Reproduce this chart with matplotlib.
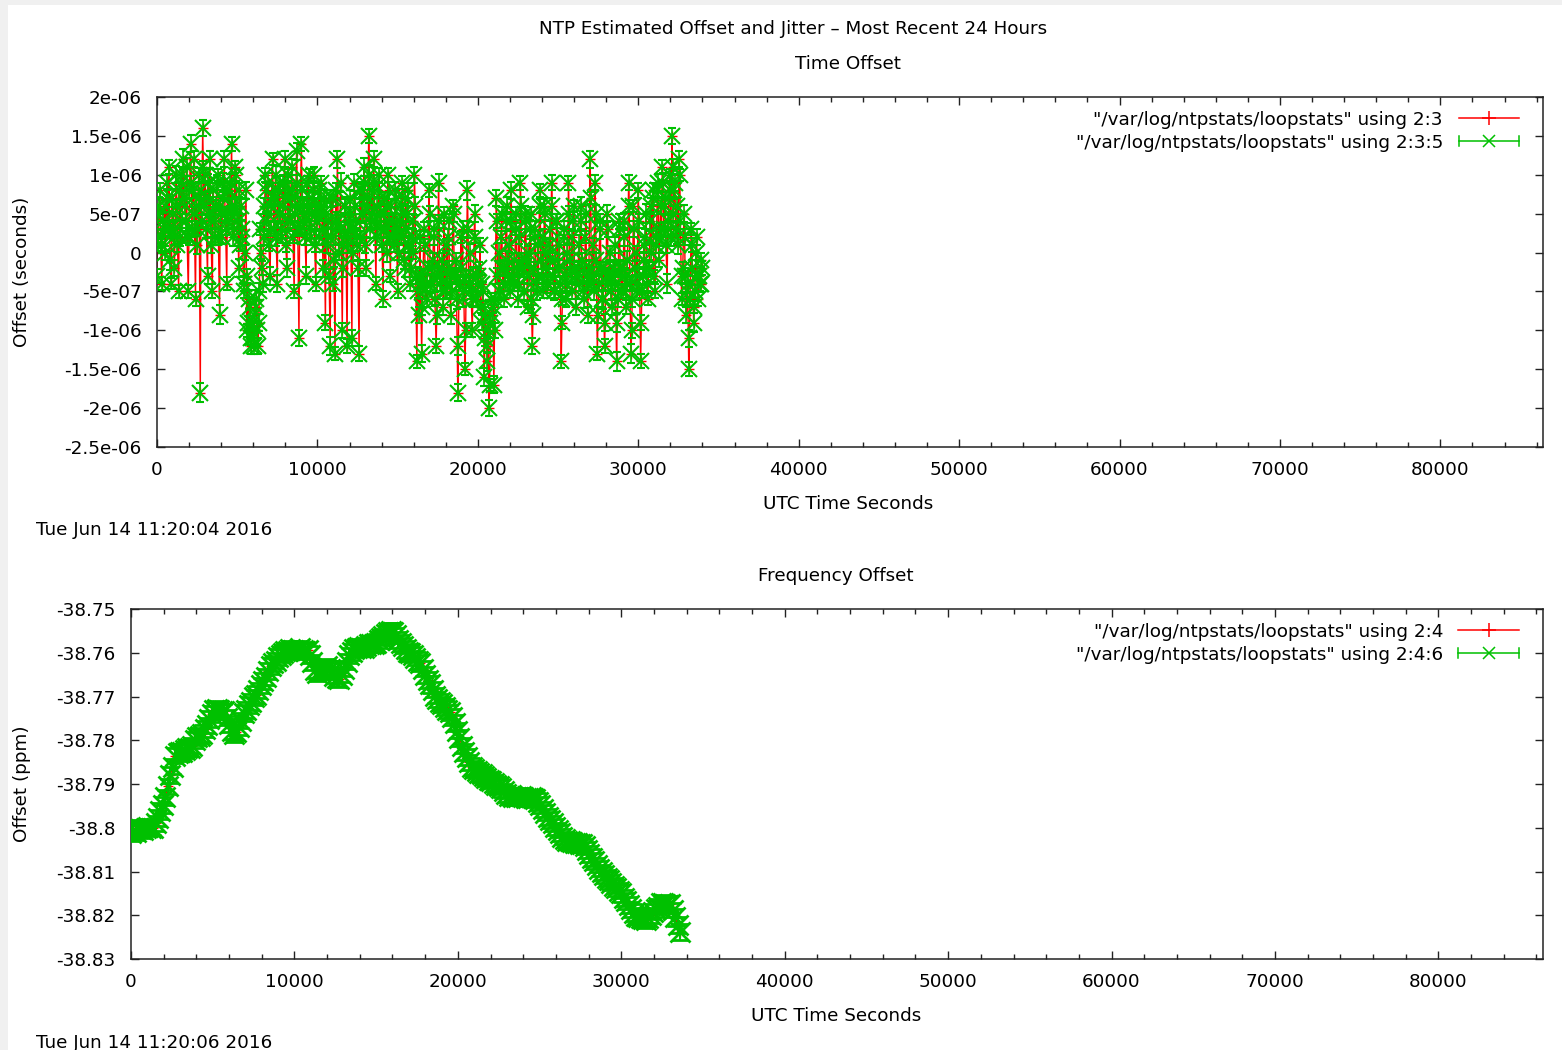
import matplotlib
matplotlib.use("Agg")
import matplotlib.pyplot as plt
from matplotlib.lines import Line2D
from matplotlib.patches import Rectangle
from matplotlib.legend_handler import HandlerBase
from matplotlib.ticker import FixedLocator, FixedFormatter, MultipleLocator

# ---------------- data ----------------
main_title = "NTP Estimated Offset and Jitter \u2013 Most Recent 24 Hours"
top_title = "Time Offset"
bottom_title = "Frequency Offset"
x_label = "UTC Time Seconds"
top_ylabel = "Offset (seconds)"
bottom_ylabel = "Offset (ppm)"
top_stamp = "Tue Jun 14 11:20:04 2016"
bottom_stamp = "Tue Jun 14 11:20:06 2016"
top_legend = ['"/var/log/ntpstats/loopstats" using 2:3',
              '"/var/log/ntpstats/loopstats" using 2:3:5']
bottom_legend = ['"/var/log/ntpstats/loopstats" using 2:4',
                 '"/var/log/ntpstats/loopstats" using 2:4:6']

x_ticks = [0, 10000, 20000, 30000, 40000, 50000, 60000, 70000, 80000]
x_tick_labels = ["0", "10000", "20000", "30000", "40000", "50000", "60000", "70000", "80000"]

off_y_ticks = [2e-06, 1.5e-06, 1e-06, 5e-07, 0, -5e-07, -1e-06, -1.5e-06, -2e-06, -2.5e-06]
off_y_labels = ["2e-06", "1.5e-06", "1e-06", "5e-07", "0", "-5e-07", "-1e-06",
                "-1.5e-06", "-2e-06", "-2.5e-06"]
freq_y_ticks = [-38.75, -38.76, -38.77, -38.78, -38.79, -38.8, -38.81, -38.82, -38.83]
freq_y_labels = ["-38.75", "-38.76", "-38.77", "-38.78", "-38.79", "-38.8", "-38.81",
                 "-38.82", "-38.83"]

# time offset samples (UTC seconds); values and jitter in units of 1e-7 s
# group A
off_t = [0, 150, 300, 450, 600, 750, 900, 1050, 1200, 1350,
         1500, 1650, 1800, 1950, 2100, 2250, 2400, 2550, 2700, 2850,
         3000, 3150, 3300, 3450, 3600, 3750, 3900, 4050, 4200, 4350,
         4500, 4650, 4800, 4950, 5100, 5250, 5400, 5550, 5700, 5850,
         6000, 6150, 6300, 6450, 6600, 6750, 6900, 7050, 7200, 7350,
         7500, 7650, 7800, 7950, 8100, 8250, 8400, 8550, 8700, 8850,
         9000, 9150, 9300, 9450, 9600, 9750, 9900, 10050, 10200, 10350,
         10500, 10650, 10800, 10950, 11100, 11250, 11400, 11550, 11700, 11850,
         12000, 12150, 12300, 12450, 12600, 12750, 12900, 13050, 13200, 13350,
         13500, 13650, 13800, 13950, 14100, 14250, 14400, 14550, 14700, 14850,
         15000, 15150, 15300, 15450, 15600, 15750, 15900, 16050, 16200, 16350,
         16500, 16650, 16800, 16950, 17100, 17250, 17400, 17550, 17700, 17850,
         18000, 18150, 18300, 18450, 18600, 18750, 18900, 19050, 19200, 19350,
         19500, 19650, 19800, 19950, 20100, 20250, 20400, 20550, 20700, 20850,
         21000, 21150, 21300, 21450, 21600, 21750, 21900, 22050, 22200, 22350,
         22500, 22650, 22800, 22950, 23100, 23250, 23400, 23550, 23700, 23850,
         24000, 24150, 24300, 24450, 24600, 24750, 24900, 25050, 25200, 25350,
         25500, 25650, 25800, 25950, 26100, 26250, 26400, 26550, 26700, 26850,
         27000, 27150, 27300, 27450, 27600, 27750, 27900, 28050, 28200, 28350,
         28500, 28650, 28800, 28950, 29100, 29250, 29400, 29550, 29700, 29850,
         30000, 30150, 30300, 30450, 30600, 30750, 30900, 31050, 31200, 31350,
         31500, 31650, 31800, 31950, 32100, 32250, 32400, 32550, 32700, 32850,
         33000, 33150, 33300, 33450, 33600, 33750, 33900]
off_v = [-3, 6, -4, 3, 7, 11, -4, 2, 10, -5,
         9, 12, 4, -5, 14, 8, -6, 3, -18, 16,
         10, -3, 12, -5, 6, 9, -8, 2, 12, -4,
         8, 14, 3, 10, -2, 6, -5, 8, -9, -12,
         -11, -6, -12, 3, -4, 10, 5, -3, 12, 7,
         -4, 9, 2, 12, -2, 8, 11, -5, 13, -11,
         14, 5, -3, 10, 2, 8, -4, 6, 9, -2,
         -9, 4, -12, 7, -13, 12, 3, -10, 6, -12,
         5, -11, 9, 2, -13, 8, 11, -2, 15, 4,
         12, -4, 8, 3, -6, 6, 10, -3, 2, 8,
         -5, 4, 9, -2, 5, -4, 2, 10, -14, -8,
         -13, 3, -6, 8, -4, 2, -12, 9, -3, -7,
         -5, 2, -8, 6, -3, -18, -4, 3, -15, 8,
         -4, -10, 5, -6, -2, -9, -16, -12, -20, -6,
         -17, 7, -5, 2, -6, 4, -3, 8, -4, 3,
         -6, 9, -2, 5, -7, 3, -12, 2, -5, 8,
         -3, 6, -4, 1, 9, -5, 4, -2, -14, 3,
         -6, 9, -3, 4, -7, -2, 6, -5, 2, -8,
         12, -4, 9, -13, 3, -6, -12, 5, -3, -7,
         -2, -14, 4, -5, 2, -7, 9, -13, 6, -4,
         8, -14, -3, 2, -6, 4, 8, -5, 9, 3,
         11, 6, -4, 10, 15, 8, 2, 12, -6, 5,
         -8, -15, 3, -9, 0, -6, -4]
off_jit = [0.9, 1.1, 0.8, 1.0, 1.2, 0.9, 0.7, 1.0, 1.1, 0.8,
           1.0, 1.3, 0.9, 0.8, 1.1, 1.0, 0.9, 0.8, 1.2, 1.0,
           0.8, 1.0, 1.1, 0.9, 0.7, 1.0, 1.2, 0.9, 1.0, 0.8,
           1.1, 0.9, 1.0, 0.8, 1.2, 1.0, 0.9, 1.1, 0.8, 1.0,
           0.9, 1.2, 1.0, 0.8, 1.1, 0.9, 1.0, 1.2, 0.8, 1.0,
           1.1, 0.9, 0.8, 1.0, 1.2, 0.9, 1.0, 0.8, 1.1, 1.0,
           0.9, 1.0, 1.1, 0.8, 1.0, 1.2, 0.9, 1.0, 0.8, 1.1,
           1.0, 0.9, 1.2, 1.0, 0.8, 1.1, 0.9, 1.0, 1.2, 0.9,
           0.8, 1.0, 1.1, 0.9, 1.0, 0.8, 1.2, 1.0, 0.9, 1.1,
           1.0, 0.8, 0.9, 1.1, 1.0, 1.2, 0.9, 0.8, 1.0, 1.1,
           0.9, 1.0, 0.8, 1.2, 1.0, 0.9, 1.1, 1.0, 0.8, 1.0,
           1.1, 0.9, 1.0, 0.8, 1.2, 1.0, 0.9, 1.1, 0.8, 1.0,
           0.9, 1.0, 1.2, 0.8, 1.0, 1.1, 0.9, 1.0, 0.8, 1.2,
           1.0, 0.9, 1.1, 1.0, 0.8, 1.0, 1.2, 0.9, 1.0, 0.8,
           1.1, 1.0, 0.9, 0.8, 1.0, 1.2, 0.9, 1.1, 1.0, 0.8,
           1.0, 0.9, 1.1, 1.0, 0.8, 1.2, 1.0, 0.9, 1.1, 0.8,
           0.9, 1.0, 1.2, 0.8, 1.0, 1.1, 0.9, 1.0, 0.8, 1.1,
           1.0, 0.9, 0.8, 1.2, 1.0, 0.9, 1.1, 1.0, 0.8, 1.0,
           1.1, 0.9, 1.0, 0.8, 1.2, 1.0, 0.9, 1.1, 0.8, 1.0,
           0.9, 1.2, 1.0, 0.8, 1.1, 0.9, 1.0, 1.2, 0.8, 1.0,
           1.0, 0.9, 1.1, 1.0, 0.8, 1.2, 1.0, 0.9, 1.1, 0.8,
           0.9, 1.0, 1.2, 0.8, 1.0, 1.1, 0.9, 1.0, 0.8, 1.1,
           1.0, 0.9, 0.8, 1.2, 1.0, 0.9, 1.1]
# group B
off_t_b = [75, 225, 375, 525, 675, 825, 975, 1125, 1275, 1425,
           1575, 1725, 1875, 2025, 2175, 2325, 2475, 2625, 2775, 2925,
           3075, 3225, 3375, 3525, 3675, 3825, 3975, 4125, 4275, 4425,
           4575, 4725, 4875, 5025, 5175, 5325, 5475, 5625, 5775, 5925,
           6075, 6225, 6375, 6525, 6675, 6825, 6975, 7125, 7275, 7425,
           7575, 7725, 7875, 8025, 8175, 8325, 8475, 8625, 8775, 8925,
           9075, 9225, 9375, 9525, 9675, 9825, 9975, 10125, 10275, 10425,
           10575, 10725, 10875, 11025, 11175, 11325, 11475, 11625, 11775, 11925,
           12075, 12225, 12375, 12525, 12675, 12825, 12975, 13125, 13275, 13425,
           13575, 13725, 13875, 14025, 14175, 14325, 14475, 14625, 14775, 14925,
           15075, 15225, 15375, 15525, 15675, 15825, 15975, 16125, 16275, 16425,
           16575, 16725, 16875, 17025, 17175, 17325, 17475, 17625, 17775, 17925,
           18075, 18225, 18375, 18525, 18675, 18825, 18975, 19125, 19275, 19425,
           19575, 19725, 19875, 20025, 20175, 20325, 20475, 20625, 20775, 20925,
           21075, 21225, 21375, 21525, 21675, 21825, 21975, 22125, 22275, 22425,
           22575, 22725, 22875, 23025, 23175, 23325, 23475, 23625, 23775, 23925,
           24075, 24225, 24375, 24525, 24675, 24825, 24975, 25125, 25275, 25425,
           25575, 25725, 25875, 26025, 26175, 26325, 26475, 26625, 26775, 26925,
           27075, 27225, 27375, 27525, 27675, 27825, 27975, 28125, 28275, 28425,
           28575, 28725, 28875, 29025, 29175, 29325, 29475, 29625, 29775, 29925,
           30075, 30225, 30375, 30525, 30675, 30825, 30975, 31125, 31275, 31425,
           31575, 31725, 31875, 32025, 32175, 32325, 32475, 32625, 32775, 32925,
           33075, 33225, 33375, 33525, 33675, 33825, 33975]
off_v_b = [2, 1, 4, 0, 3, -1, 5, 3, 1, 2,
           4, 6, 2, 8, 3, 5, 1, 7, 4, 6,
           3, 5, 1, 4, 6, 2, 5, 7, 3, 4,
           5, 2, 6, 4, 1, 3, 0, -3, -7, -9,
           -8, -10, -5, -2, 2, 4, 1, 6, 3, 2,
           5, 3, 6, 1, 4, 7, 2, 5, 3, 6,
           4, 2, 6, 3, 5, 1, 4, 2, 5, 3,
           1, -3, 2, -1, 4, 0, 3, -2, 2, 1,
           3, 0, 4, -2, 2, 5, 1, 6, 3, 5,
           4, 2, 5, 1, 3, 0, 4, 2, 1, 3,
           0, 2, -1, 3, 1, -2, 0, -3, -5, -4,
           -3, -5, -2, -4, -1, -6, -3, -4, -2, -5,
           -4, -2, -5, -3, -6, -4, -2, -5, -3, -4,
           -5, -3, -6, -4, -7, -5, -8, -10, -9, -7,
           -6, -3, -5, -2, -4, -1, -5, -3, -4, -2,
           -4, -2, -5, -1, -3, -6, -2, -4, -3, -1,
           -5, -2, -4, -1, -3, -5, -2, -4, -6, -3,
           -4, -1, -5, -2, -3, -4, -1, -6, -3, -2,
           -3, -5, -1, -4, -2, -6, -3, -4, -5, -2,
           -4, -6, -2, -5, -3, -1, -4, -6, -2, -5,
           -3, -5, -1, -4, -2, 0, -3, 1, -1, 2,
           3, 1, 4, 2, 5, 3, 1, 4, -2, -3,
           -4, -6, -2, -5, -3, -4, -2]
off_jit_b = [1.0, 0.8, 1.1, 0.9, 1.0, 1.2, 0.8, 1.0, 0.9, 1.1,
             0.9, 1.0, 0.8, 1.1, 1.0, 0.9, 1.2, 1.0, 0.8, 1.0,
             1.1, 0.9, 1.0, 0.8, 1.2, 1.0, 0.9, 1.1, 0.8, 1.0,
             1.0, 1.1, 0.9, 1.0, 0.8, 1.2, 1.0, 0.9, 1.1, 0.8,
             0.8, 1.0, 1.1, 0.9, 1.0, 1.2, 0.8, 1.0, 0.9, 1.1,
             1.0, 0.8, 1.1, 0.9, 1.0, 1.2, 0.8, 1.0, 0.9, 1.1,
             0.9, 1.0, 0.8, 1.1, 1.0, 0.9, 1.2, 1.0, 0.8, 1.0,
             1.1, 0.9, 1.0, 0.8, 1.2, 1.0, 0.9, 1.1, 0.8, 1.0,
             1.0, 1.1, 0.9, 1.0, 0.8, 1.2, 1.0, 0.9, 1.1, 0.8,
             0.8, 1.0, 1.1, 0.9, 1.0, 1.2, 0.8, 1.0, 0.9, 1.1,
             1.0, 0.8, 1.1, 0.9, 1.0, 1.2, 0.8, 1.0, 0.9, 1.1,
             0.9, 1.0, 0.8, 1.1, 1.0, 0.9, 1.2, 1.0, 0.8, 1.0,
             1.1, 0.9, 1.0, 0.8, 1.2, 1.0, 0.9, 1.1, 0.8, 1.0,
             1.0, 1.1, 0.9, 1.0, 0.8, 1.2, 1.0, 0.9, 1.1, 0.8,
             0.8, 1.0, 1.1, 0.9, 1.0, 1.2, 0.8, 1.0, 0.9, 1.1,
             1.0, 0.8, 1.1, 0.9, 1.0, 1.2, 0.8, 1.0, 0.9, 1.1,
             0.9, 1.0, 0.8, 1.1, 1.0, 0.9, 1.2, 1.0, 0.8, 1.0,
             1.1, 0.9, 1.0, 0.8, 1.2, 1.0, 0.9, 1.1, 0.8, 1.0,
             1.0, 1.1, 0.9, 1.0, 0.8, 1.2, 1.0, 0.9, 1.1, 0.8,
             0.8, 1.0, 1.1, 0.9, 1.0, 1.2, 0.8, 1.0, 0.9, 1.1,
             1.0, 0.8, 1.1, 0.9, 1.0, 1.2, 0.8, 1.0, 0.9, 1.1,
             0.9, 1.0, 0.8, 1.1, 1.0, 0.9, 1.2, 1.0, 0.8, 1.0,
             1.1, 0.9, 1.0, 0.8, 1.2, 1.0, 0.9]
# group C
off_t_c = [40, 190, 340, 490, 640, 790, 940, 1090, 1240, 1390,
           1540, 1690, 1840, 1990, 2140, 2290, 2440, 2590, 2740, 2890,
           3040, 3190, 3340, 3490, 3640, 3790, 3940, 4090, 4240, 4390,
           4540, 4690, 4840, 4990, 5140, 5290, 5440, 5590, 5740, 5890,
           6040, 6190, 6340, 6490, 6640, 6790, 6940, 7090, 7240, 7390,
           7540, 7690, 7840, 7990, 8140, 8290, 8440, 8590, 8740, 8890,
           9040, 9190, 9340, 9490, 9640, 9790, 9940, 10090, 10240, 10390,
           10540, 10690, 10840, 10990, 11140, 11290, 11440, 11590, 11740, 11890,
           12040, 12190, 12340, 12490, 12640, 12790, 12940, 13090, 13240, 13390,
           13540, 13690, 13840, 13990, 14140, 14290, 14440, 14590, 14740, 14890,
           15040, 15190, 15340, 15490, 15640, 15790, 15940, 16090, 16240, 16390,
           16540, 16690, 16840, 16990, 17140, 17290, 17440, 17590, 17740, 17890,
           18040, 18190, 18340, 18490, 18640, 18790, 18940, 19090, 19240, 19390,
           19540, 19690, 19840, 19990, 20140, 20290, 20440, 20590, 20740, 20890,
           21040, 21190, 21340, 21490, 21640, 21790, 21940, 22090, 22240, 22390,
           22540, 22690, 22840, 22990, 23140, 23290, 23440, 23590, 23740, 23890,
           24040, 24190, 24340, 24490, 24640, 24790, 24940, 25090, 25240, 25390,
           25540, 25690, 25840, 25990, 26140, 26290, 26440, 26590, 26740, 26890,
           27040, 27190, 27340, 27490, 27640, 27790, 27940, 28090, 28240, 28390,
           28540, 28690, 28840, 28990, 29140, 29290, 29440, 29590, 29740, 29890,
           30040, 30190, 30340, 30490, 30640, 30790, 30940, 31090, 31240, 31390,
           31540, 31690, 31840, 31990, 32140, 32290, 32440, 32590, 32740, 32890,
           33040, 33190, 33340, 33490, 33640, 33790, 33940]
off_v_c = [5, 8, 1, 6, 9, 3, 7, -2, 6, 8,
           10, 7, 11, 2, 9, 12, 6, 10, 8, 11,
           7, 9, 4, 8, 2, 10, 6, 9, 5, 8,
           9, 6, 11, 5, 8, 2, -4, -10, -6, -11,
           -12, -7, -9, 0, 6, 8, 9, 3, 7, 10,
           8, 5, 9, 7, 10, 4, 8, 6, 9, 3,
           8, 6, 9, 4, 7, 10, 5, 8, 6, 7,
           5, 2, 7, -4, 8, 4, 9, 1, 6, 4,
           7, 3, 6, 1, 8, 5, 9, 7, 10, 8,
           9, 6, 10, 5, 7, 3, 8, 6, 4, 7,
           3, 6, 5, 7, 8, 1, 4, 6, -3, 2,
           -7, 1, -4, 5, -2, 3, -8, 4, -1, 5,
           1, 4, -3, 5, -1, -12, 2, -6, -10, 3,
           0, -6, 2, -3, 1, -4, -11, -14, -17, -8,
           -10, 4, 0, 5, -2, 6, 1, 4, -1, 5,
           2, 6, -1, 4, 0, 5, -8, 3, 1, 6,
           2, 5, 0, 3, 6, -1, 4, 1, -9, 2,
           0, 5, 2, 6, -3, 1, 4, -2, 5, -4,
           7, 1, 5, -8, 4, -2, -9, 3, 0, -3,
           1, -9, 3, -2, 4, -4, 6, -10, 3, 0,
           4, -9, 1, 5, -2, 6, 7, 2, 8, 6,
           9, 7, 3, 8, 11, 9, 6, 10, -3, 2,
           -5, -11, 1, -7, 2, -3, -1]
off_jit_c = [0.9, 1.0, 1.1, 0.8, 1.0, 0.9, 1.2, 1.0, 0.8, 1.1,
             1.0, 0.9, 1.1, 1.0, 0.8, 1.0, 1.2, 0.9, 1.0, 0.8,
             0.8, 1.1, 1.0, 0.9, 1.0, 0.8, 1.1, 1.2, 0.9, 1.0,
             1.1, 1.0, 0.8, 1.0, 0.9, 1.1, 1.0, 0.8, 1.2, 0.9,
             1.0, 0.9, 1.1, 0.8, 1.0, 1.0, 1.2, 0.9, 0.8, 1.1,
             0.9, 1.0, 1.0, 1.1, 0.8, 0.9, 1.0, 1.2, 1.0, 0.8,
             1.0, 1.1, 0.9, 1.0, 0.8, 1.0, 0.9, 1.1, 1.2, 1.0,
             0.8, 1.0, 1.1, 0.9, 1.0, 0.8, 1.2, 1.0, 0.9, 1.1,
             1.1, 0.9, 1.0, 0.8, 1.1, 1.0, 0.9, 1.0, 1.2, 0.8,
             1.0, 1.0, 0.9, 1.1, 0.8, 1.0, 1.1, 0.9, 1.0, 1.2,
             0.9, 1.1, 1.0, 0.8, 1.0, 0.9, 1.0, 1.2, 1.1, 0.8,
             1.0, 0.8, 1.1, 1.0, 0.9, 1.0, 1.2, 0.8, 1.0, 0.9,
             0.8, 1.0, 0.9, 1.1, 1.0, 1.2, 0.8, 1.0, 0.9, 1.1,
             1.1, 1.0, 0.8, 1.0, 0.9, 1.1, 1.0, 1.2, 0.8, 0.9,
             1.0, 0.9, 1.2, 0.8, 1.0, 1.1, 0.9, 1.0, 1.0, 0.8,
             0.9, 1.1, 1.0, 1.0, 0.8, 0.9, 1.2, 1.0, 1.1, 0.9,
             1.0, 0.8, 0.9, 1.1, 1.0, 1.0, 0.9, 1.2, 0.8, 1.0,
             1.1, 1.0, 1.0, 0.8, 0.9, 1.2, 1.0, 0.9, 1.1, 0.8,
             0.8, 0.9, 1.1, 1.0, 1.0, 0.8, 1.1, 1.0, 0.9, 1.2,
             1.0, 1.2, 0.8, 0.9, 1.1, 1.0, 0.8, 1.0, 1.0, 0.9,
             0.9, 1.0, 1.0, 1.2, 0.8, 1.0, 0.9, 1.1, 0.8, 1.0,
             1.2, 0.8, 1.0, 0.9, 1.0, 1.1, 1.0, 0.8, 0.9, 1.0,
             1.0, 1.1, 0.9, 0.8, 1.0, 1.2, 0.9]

# frequency offset samples (UTC seconds), values (ppm) and wander (ppm)
freq_t = [0, 300, 600, 900, 1200, 1500, 1800, 2100, 2400, 2700,
          3000, 3300, 3600, 3900, 4200, 4500, 4800, 5100, 5400, 5700,
          6000, 6300, 6600, 6900, 7200, 7500, 7800, 8100, 8400, 8700,
          9000, 9300, 9600, 9900, 10200, 10500, 10800, 11100, 11400, 11700,
          12000, 12300, 12600, 12900, 13200, 13500, 13800, 14100, 14400, 14700,
          15000, 15300, 15600, 15900, 16200, 16500, 16800, 17100, 17400, 17700,
          18000, 18300, 18600, 18900, 19200, 19500, 19800, 20100, 20400, 20700,
          21000, 21300, 21600, 21900, 22200, 22500, 22800, 23100, 23400, 23700,
          24000, 24300, 24600, 24900, 25200, 25500, 25800, 26100, 26400, 26700,
          27000, 27300, 27600, 27900, 28200, 28500, 28800, 29100, 29400, 29700,
          30000, 30300, 30600, 30900, 31200, 31500, 31800, 32100, 32400, 32700,
          33000, 33300, 33600]
freq_v = [-38.8012, -38.8010, -38.8003, -38.8000, -38.8000, -38.7990, -38.7962, -38.7930, -38.7880, -38.7835,
          -38.7826, -38.7822, -38.7818, -38.7800, -38.7790, -38.7774, -38.7752, -38.7731, -38.7730, -38.7734,
          -38.7762, -38.7786, -38.7770, -38.7738, -38.7720, -38.7702, -38.7686, -38.7665, -38.7642, -38.7624,
          -38.7610, -38.7600, -38.7596, -38.7594, -38.7594, -38.7593, -38.7594, -38.7622, -38.7646, -38.7640,
          -38.7631, -38.7642, -38.7658, -38.7650, -38.7620, -38.7598, -38.7590, -38.7588, -38.7584, -38.7580,
          -38.7577, -38.7566, -38.7556, -38.7550, -38.7560, -38.7578, -38.7592, -38.7600, -38.7612, -38.7623,
          -38.7650, -38.7672, -38.7698, -38.7712, -38.7724, -38.7736, -38.7760, -38.7795, -38.7826, -38.7850,
          -38.7866, -38.7874, -38.7882, -38.7890, -38.7897, -38.7905, -38.7916, -38.7927, -38.7929, -38.7930,
          -38.7930, -38.7931, -38.7932, -38.7940, -38.7958, -38.7975, -38.7990, -38.8005, -38.8020, -38.8030,
          -38.8032, -38.8035, -38.8037, -38.8050, -38.8068, -38.8085, -38.8102, -38.8114, -38.8126, -38.8138,
          -38.8150, -38.8168, -38.8186, -38.8202, -38.8206, -38.8210, -38.8200, -38.8186, -38.8173, -38.8174,
          -38.8175, -38.8205, -38.8238]
freq_t_b = [150, 450, 750, 1050, 1350, 1650, 1950, 2250, 2550, 2850,
            3150, 3450, 3750, 4050, 4350, 4650, 4950, 5250, 5550, 5850,
            6150, 6450, 6750, 7050, 7350, 7650, 7950, 8250, 8550, 8850,
            9150, 9450, 9750, 10050, 10350, 10650, 10950, 11250, 11550, 11850,
            12150, 12450, 12750, 13050, 13350, 13650, 13950, 14250, 14550, 14850,
            15150, 15450, 15750, 16050, 16350, 16650, 16950, 17250, 17550, 17850,
            18150, 18450, 18750, 19050, 19350, 19650, 19950, 20250, 20550, 20850,
            21150, 21450, 21750, 22050, 22350, 22650, 22950, 23250, 23550, 23850,
            24150, 24450, 24750, 25050, 25350, 25650, 25950, 26250, 26550, 26850,
            27150, 27450, 27750, 28050, 28350, 28650, 28950, 29250, 29550, 29850,
            30150, 30450, 30750, 31050, 31350, 31650, 31950, 32250, 32550, 32850,
            33150, 33450]
freq_v_b = [-38.8006, -38.8000, -38.8005, -38.7998, -38.8000, -38.7978, -38.7948, -38.7905, -38.7860, -38.7828,
            -38.7826, -38.7818, -38.7812, -38.7793, -38.7785, -38.7766, -38.7740, -38.7728, -38.7734, -38.7748,
            -38.7778, -38.7782, -38.7755, -38.7730, -38.7712, -38.7696, -38.7674, -38.7655, -38.7630, -38.7618,
            -38.7604, -38.7596, -38.7592, -38.7596, -38.7590, -38.7596, -38.7604, -38.7640, -38.7642, -38.7634,
            -38.7636, -38.7652, -38.7660, -38.7636, -38.7606, -38.7592, -38.7586, -38.7588, -38.7580, -38.7580,
            -38.7570, -38.7562, -38.7552, -38.7552, -38.7570, -38.7584, -38.7598, -38.7604, -38.7618, -38.7636,
            -38.7662, -38.7684, -38.7706, -38.7718, -38.7730, -38.7746, -38.7778, -38.7812, -38.7838, -38.7860,
            -38.7870, -38.7878, -38.7886, -38.7892, -38.7902, -38.7910, -38.7922, -38.7926, -38.7930, -38.7928,
            -38.7932, -38.7930, -38.7935, -38.7948, -38.7966, -38.7982, -38.7998, -38.8012, -38.8026, -38.8030,
            -38.8034, -38.8036, -38.8042, -38.8060, -38.8076, -38.8094, -38.8108, -38.8120, -38.8132, -38.8144,
            -38.8160, -38.8176, -38.8194, -38.8204, -38.8208, -38.8206, -38.8192, -38.8180, -38.8172, -38.8176,
            -38.8188, -38.8222]
freq_jit = [0.0018, 0.0017, 0.0019, 0.0018, 0.0016, 0.0018, 0.0019, 0.0017, 0.0018, 0.0018,
            0.0017, 0.0018, 0.0019, 0.0018, 0.0017, 0.0018, 0.0018, 0.0019, 0.0017, 0.0018,
            0.0018, 0.0017, 0.0018, 0.0019, 0.0018, 0.0017, 0.0018, 0.0018, 0.0019, 0.0017,
            0.0018, 0.0018, 0.0017, 0.0018, 0.0019, 0.0018, 0.0017, 0.0018, 0.0018, 0.0019,
            0.0017, 0.0018, 0.0018, 0.0017, 0.0018, 0.0019, 0.0018, 0.0017, 0.0018, 0.0018,
            0.0019, 0.0017, 0.0018, 0.0018, 0.0017, 0.0018, 0.0019, 0.0018, 0.0017, 0.0018,
            0.0018, 0.0019, 0.0017, 0.0018, 0.0018, 0.0017, 0.0018, 0.0019, 0.0018, 0.0017,
            0.0018, 0.0018, 0.0019, 0.0017, 0.0018, 0.0018, 0.0017, 0.0018, 0.0019, 0.0018,
            0.0017, 0.0018, 0.0018, 0.0019, 0.0017, 0.0018, 0.0018, 0.0017, 0.0018, 0.0019,
            0.0018, 0.0017, 0.0018, 0.0018, 0.0019, 0.0017, 0.0018, 0.0018, 0.0017, 0.0018,
            0.0019, 0.0018, 0.0017, 0.0018, 0.0018, 0.0019, 0.0017, 0.0018, 0.0018, 0.0017,
            0.0018, 0.0019, 0.0018]
freq_jit_b = [0.0017, 0.0018, 0.0018, 0.0019, 0.0017, 0.0018, 0.0018, 0.0017, 0.0018, 0.0019,
              0.0018, 0.0017, 0.0018, 0.0018, 0.0019, 0.0017, 0.0018, 0.0018, 0.0017, 0.0018,
              0.0019, 0.0018, 0.0017, 0.0018, 0.0018, 0.0019, 0.0017, 0.0018, 0.0018, 0.0017,
              0.0018, 0.0019, 0.0018, 0.0017, 0.0018, 0.0018, 0.0019, 0.0017, 0.0018, 0.0018,
              0.0017, 0.0018, 0.0019, 0.0018, 0.0017, 0.0018, 0.0018, 0.0019, 0.0017, 0.0018,
              0.0018, 0.0017, 0.0018, 0.0019, 0.0018, 0.0017, 0.0018, 0.0018, 0.0019, 0.0017,
              0.0018, 0.0018, 0.0017, 0.0018, 0.0019, 0.0018, 0.0017, 0.0018, 0.0018, 0.0019,
              0.0017, 0.0018, 0.0018, 0.0017, 0.0018, 0.0019, 0.0018, 0.0017, 0.0018, 0.0018,
              0.0019, 0.0017, 0.0018, 0.0018, 0.0017, 0.0018, 0.0019, 0.0018, 0.0017, 0.0018,
              0.0018, 0.0019, 0.0017, 0.0018, 0.0018, 0.0017, 0.0018, 0.0019, 0.0018, 0.0017,
              0.0018, 0.0018, 0.0019, 0.0017, 0.0018, 0.0018, 0.0017, 0.0018, 0.0019, 0.0018,
              0.0017, 0.0018]

# merge the sample groups in time order
off_rows = sorted(zip(off_t + off_t_b + off_t_c, off_v + off_v_b + off_v_c,
                      off_jit + off_jit_b + off_jit_c))
off_time = [r[0] for r in off_rows]
off_sec = [r[1] * 1e-7 for r in off_rows]
off_err = [r[2] * 1e-7 for r in off_rows]
freq_rows = sorted(zip(freq_t + freq_t_b, freq_v + freq_v_b, freq_jit + freq_jit_b))
freq_time = [r[0] for r in freq_rows]
freq_val = [r[1] for r in freq_rows]
freq_err = [r[2] for r in freq_rows]

# ---------------- style ----------------
RED = "#ff0000"
GREEN = "#00c000"
FS = 13.2
W, H = 1562, 1050
plt.rcParams["font.family"] = ["DejaVu Sans"]
plt.rcParams["font.size"] = FS

fig = plt.figure(figsize=(W / 100, H / 100), dpi=100)
fig.patch.set_facecolor("white")
fig.add_artist(Rectangle((0, 0), 8 / W, 1, transform=fig.transFigure,
                         facecolor="#f0f0f0", edgecolor="none", zorder=0))
fig.add_artist(Rectangle((0, 1 - 5 / H), 1, 5 / H, transform=fig.transFigure,
                         facecolor="#f0f0f0", edgecolor="none", zorder=0))


def px_axes(left, top, right, bottom):
    return fig.add_axes([left / W, 1 - bottom / H, (right - left) / W, (bottom - top) / H])


class GnuErrHandler(HandlerBase):
    def create_artists(self, legend, orig_handle, xdescent, ydescent, width, height,
                       fontsize, trans):
        y = height / 2 - ydescent
        x0 = -xdescent
        x1 = x0 + width
        c = 3.6
        arts = [Line2D([x0, x1], [y, y], color=GREEN, lw=1.1),
                Line2D([x0, x0], [y - c, y + c], color=GREEN, lw=1.1),
                Line2D([x1, x1], [y - c, y + c], color=GREEN, lw=1.1),
                Line2D([(x0 + x1) / 2], [y], color=GREEN, marker="x", markersize=8, mew=1.1,
                       linestyle="none")]
        for a in arts:
            a.set_transform(trans)
        return arts


def style_axes(ax, yticks, ylabels, pad_y):
    ax.set_xlim(0, 86400)
    ax.xaxis.set_major_locator(FixedLocator(x_ticks))
    ax.xaxis.set_major_formatter(FixedFormatter(x_tick_labels))
    ax.xaxis.set_minor_locator(MultipleLocator(2000))
    ax.yaxis.set_major_locator(FixedLocator(yticks))
    ax.yaxis.set_major_formatter(FixedFormatter(ylabels))
    ax.tick_params(which="both", direction="in", top=True, right=True, width=1.0,
                   color="#222222", labelsize=FS)
    ax.tick_params(which="major", length=6)
    ax.tick_params(which="minor", length=3.5)
    ax.tick_params(axis="x", pad=10)
    ax.tick_params(axis="y", pad=pad_y)
    for s in ax.spines.values():
        s.set_linewidth(1.1)
        s.set_color("#222222")


# ---------------- top: time offset ----------------
ax1 = px_axes(157, 97, 1543, 447)
ax1.plot(off_time, off_sec, color=RED, lw=1.0, marker="+", markersize=7, mew=1.0, zorder=2)
ax1.errorbar(off_time, off_sec, yerr=off_err, fmt="x", color=GREEN, ecolor=GREEN,
             elinewidth=1.2, capsize=3, capthick=1.2, markersize=11, mew=1.5, zorder=3)
ax1.set_ylim(-2.5e-6, 2e-6)
style_axes(ax1, off_y_ticks, off_y_labels, 11)
h_red = Line2D([], [], color=RED, lw=1.1, marker="+", markersize=10, mew=1.1)
h_grn = Line2D([], [], color=GREEN)
ax1.legend([h_red, h_grn], top_legend, handler_map={h_grn: GnuErrHandler()},
           loc="upper right", bbox_to_anchor=(0.9827, 0.961), frameon=False, markerfirst=False,
           numpoints=1, handlelength=3.3, handletextpad=0.85, labelspacing=0.28,
           borderpad=0, borderaxespad=0, fontsize=FS)

# ---------------- bottom: frequency offset ----------------
ax2 = px_axes(131, 609, 1543, 959)
ax2.plot(freq_time, freq_val, color=RED, lw=1.0, marker="+", markersize=7, mew=1.0, zorder=2)
ax2.errorbar(freq_time, freq_val, yerr=freq_err, fmt="x", color=GREEN, ecolor=GREEN,
             elinewidth=1.5, capsize=6, capthick=1.5, markersize=14, mew=2.0, zorder=3)
ax2.set_ylim(-38.83, -38.75)
style_axes(ax2, freq_y_ticks, freq_y_labels, 11)
h_red2 = Line2D([], [], color=RED, lw=1.1, marker="+", markersize=10, mew=1.1)
h_grn2 = Line2D([], [], color=GREEN)
ax2.legend([h_red2, h_grn2], bottom_legend, handler_map={h_grn2: GnuErrHandler()},
           loc="upper right", bbox_to_anchor=(0.983, 0.961), frameon=False, markerfirst=False,
           numpoints=1, handlelength=3.3, handletextpad=0.85, labelspacing=0.28,
           borderpad=0, borderaxespad=0, fontsize=FS)

# ---------------- texts ----------------
def ftext(x, y, s, **kw):
    fig.text(x / W, 1 - y / H, s, fontsize=FS, **kw)

ftext(793, 29, main_title, ha="center", va="center")
ftext(848, 64, top_title, ha="center", va="center")
ftext(836, 576, bottom_title, ha="center", va="center")
ftext(848, 504, x_label, ha="center", va="center")
ftext(836, 1016, x_label, ha="center", va="center")
ftext(22, 272, top_ylabel, ha="center", va="center", rotation=90)
ftext(22, 784, bottom_ylabel, ha="center", va="center", rotation=90)
ftext(36, 530, top_stamp, ha="left", va="center")
ftext(36, 1043, bottom_stamp, ha="left", va="center")

fig.savefig("out.png", dpi=100, facecolor=fig.get_facecolor())
